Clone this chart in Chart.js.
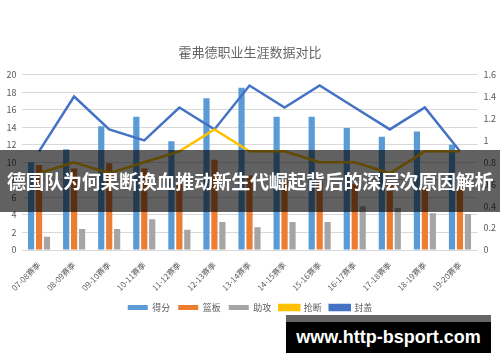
<!DOCTYPE html>
<html>
<head>
<meta charset="utf-8">
<script src="https://cdn.jsdelivr.net/npm/chart.js@4.4.1/dist/chart.umd.min.js"></script>
<style>
  html, body { margin: 0; padding: 0; background: #fff; }
  #wrap { position: relative; width: 500px; height: 362px; overflow: hidden; }
  #banner {
    position: absolute; left: 0; top: 150px; width: 500px; height: 62px;
    background: rgba(0, 0, 0, 0.62); color: #fff;
    font-family: "Noto Sans CJK SC", sans-serif; font-weight: bold; font-size: 19px;
    line-height: 62px; text-align: center; white-space: nowrap; letter-spacing: -0.3px;
  }
  #mark {
    position: absolute; left: 286px; top: 315px; width: 205px; height: 38px;
    background: #000; border-top: 7px solid #666; box-sizing: border-box;
    color: #fff; font-family: "Liberation Sans", sans-serif; font-weight: bold; font-size: 18px;
    line-height: 30px; text-align: center; white-space: nowrap;
  }
</style>
</head>
<body>
<div id="wrap">
  <canvas id="combo" width="500" height="362"></canvas>
  <div id="banner">德国队为何果断换血推动新生代崛起背后的深层次原因解析</div>
  <div id="mark">www.http-bsport.com</div>
</div>
<script>
const seasons = ['07-08赛季', '08-09赛季', '09-10赛季', '10-11赛季', '11-12赛季', '12-13赛季', '13-14赛季',
                 '14-15赛季', '15-16赛季', '16-17赛季', '17-18赛季', '18-19赛季', '19-20赛季'];
const points   = [10.0, 11.5, 14.1, 15.2, 12.4, 17.3, 18.5, 15.2, 15.2, 13.9, 12.9, 13.5, 12.0];
const rebounds = [9.7, 9.3, 9.9, 9.3, 7.5, 10.3, 8.5, 8.0, 7.8, 7.5, 7.5, 7.0, 7.0];
const assists  = [1.5, 2.4, 2.4, 3.5, 2.3, 3.2, 2.6, 3.2, 3.2, 5.0, 4.8, 4.2, 4.1];
const steals   = [0.7, 0.8, 0.7, 0.8, 0.9, 1.1, 0.9, 0.9, 0.8, 0.8, 0.7, 0.9, 0.9];
const blocks   = [0.9, 1.4, 1.1, 1.0, 1.3, 1.1, 1.5, 1.3, 1.5, 1.3, 1.1, 1.3, 0.9];
const leftTicks  = [0, 20, 2];
const rightTicks = [0, 1.6, 0.2];

const font = "'Noto Sans CJK SC', sans-serif";
const grey = '#595959';

const barDs = (label, data, color) => ({
  type: 'bar', label: label, data: data, backgroundColor: color,
  yAxisID: 'y', order: 1, categoryPercentage: 0.68, barPercentage: 0.78
});
const lineDs = (label, data, color) => ({
  type: 'line', label: label, data: data, borderColor: color, backgroundColor: color,
  borderWidth: 2.5, pointRadius: 0, tension: 0, yAxisID: 'y1', order: 0
});

document.addEventListener('DOMContentLoaded', function () {
  const ctx = document.getElementById('combo').getContext('2d');
  new Chart(ctx, {
    data: {
      labels: seasons,
      datasets: [
        barDs('得分', points, '#5B9BD5'),
        barDs('篮板', rebounds, '#ED7D31'),
        barDs('助攻', assists, '#A5A5A5'),
        lineDs('抢断', steals, '#FFC000'),
        lineDs('封盖', blocks, '#4472C4')
      ]
    },
    options: {
      responsive: false,
      animation: false,
      layout: { padding: { bottom: 40 } },
      plugins: {
        title: {
          display: true,
          text: '霍弗德职业生涯数据对比',
          color: '#666666',
          font: { family: font, size: 13, weight: 'normal' },
          padding: { top: 44, bottom: 15 }
        },
        legend: {
          position: 'bottom',
          labels: {
            color: grey,
            font: { family: font, size: 9 },
            boxWidth: 20,
            boxHeight: 5,
            padding: 8,
            sort: (a, b) => a.datasetIndex - b.datasetIndex
          }
        },
        tooltip: { enabled: false }
      },
      scales: {
        x: {
          grid: { display: false },
          border: { display: false },
          ticks: {
            color: grey, font: { family: font, size: 8 },
            minRotation: 45, maxRotation: 45, padding: 2
          },
          afterFit: (s) => { s.height = 45; }
        },
        y: {
          position: 'left',
          min: leftTicks[0], max: leftTicks[1],
          grid: { color: '#d9d9d9', drawTicks: false },
          border: { display: false },
          ticks: { stepSize: leftTicks[2], color: grey, font: { family: font, size: 9 }, padding: 5 },
          afterFit: (s) => { s.width = 21.5; }
        },
        y1: {
          position: 'right',
          min: rightTicks[0], max: rightTicks[1],
          grid: { drawOnChartArea: false, drawTicks: false },
          border: { display: false },
          ticks: {
            stepSize: rightTicks[2], color: grey, font: { family: font, size: 9 }, padding: 6,
            callback: (v) => +v.toFixed(1)
          },
          afterFit: (s) => { s.width = 22.5; }
        }
      }
    }
  });
});
</script>
</body>
</html>
